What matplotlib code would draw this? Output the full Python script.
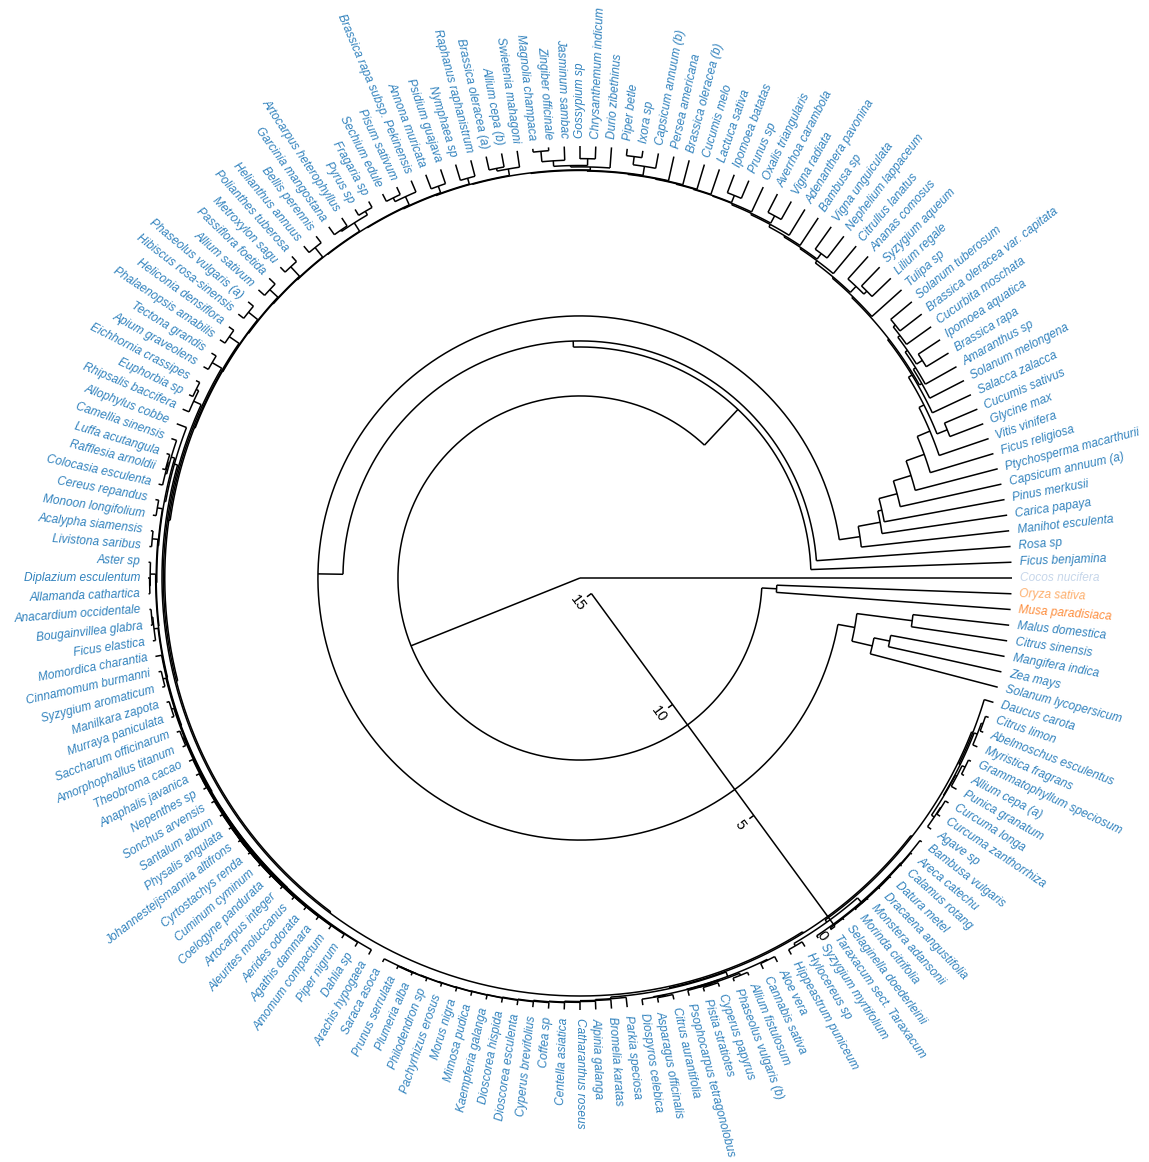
import numpy as np
import matplotlib
matplotlib.use("Agg")
import matplotlib.pyplot as plt

# leaf labels in display order, clockwise from the 3 o'clock position
leaves = [
    "Cocos nucifera", "Oryza sativa", "Musa paradisiaca", "Malus domestica",
    "Citrus sinensis", "Mangifera indica", "Zea mays", "Solanum lycopersicum",
    "Daucus carota", "Citrus limon", "Abelmoschus esculentus", "Myristica fragrans",
    "Grammatophyllum speciosum", "Allium cepa (a)", "Punica granatum", "Curcuma longa",
    "Curcuma zanthorrhiza", "Agave sp", "Bambusa vulgaris", "Areca catechu",
    "Calamus rotang", "Datura metel", "Dracaena angustifolia", "Monstera adansonii",
    "Morinda citrifolia", "Selaginella doederleinii", "Taraxacum sect. Taraxacum",
    "Syzygium myrtifolium", "Hylocereus sp", "Hippeastrum puniceum", "Aloe vera",
    "Cannabis sativa", "Allium fistulosum", "Phaseolus vulgaris (b)", "Cyperus papyrus",
    "Pistia stratiotes", "Psophocarpus tetragonolobus", "Citrus aurantifolia",
    "Asparagus officinalis", "Diospyros celebica", "Parkia speciosa", "Bromelia karatas",
    "Alpinia galanga", "Catharanthus roseus", "Centella asiatica", "Coffea sp",
    "Cyperus brevifolius", "Dioscorea esculenta", "Dioscorea hispida", "Kaempferia galanga",
    "Mimosa pudica", "Morus nigra", "Pachyrhizus erosus", "Philodendron sp",
    "Plumeria alba", "Prunus serrulata", "Saraca asoca", "Arachis hypogaea", "Dahlia sp",
    "Piper nigrum", "Amomum compactum", "Agathis dammara", "Aerides odorata",
    "Aleurites moluccanus", "Artocarpus integer", "Coelogyne pandurata", "Cuminum cyminum",
    "Cyrtostachys renda", "Johannesteijsmannia altifrons", "Physalis angulata",
    "Santalum album", "Sonchus arvensis", "Nepenthes sp", "Anaphalis javanica",
    "Theobroma cacao", "Amorphophallus titanum", "Saccharum officinarum",
    "Murraya paniculata", "Manilkara zapota", "Syzygium aromaticum", "Cinnamomum burmanni",
    "Momordica charantia", "Ficus elastica", "Bougainvillea glabra", "Anacardium occidentale",
    "Allamanda cathartica", "Diplazium esculentum", "Aster sp", "Livistona saribus",
    "Acalypha siamensis", "Monoon longifolium", "Cereus repandus", "Colocasia esculenta",
    "Rafflesia arnoldii", "Luffa acutangula", "Camellia sinensis", "Allophylus cobbe",
    "Rhipsalis baccifera", "Euphorbia sp", "Eichhornia crassipes", "Apium graveolens",
    "Tectona grandis", "Phalaenopsis amabilis", "Heliconia densiflora",
    "Hibiscus rosa-sinensis", "Phaseolus vulgaris (a)", "Allium sativum",
    "Passiflora foetida", "Metroxylon sagu", "Polianthes tuberosa", "Helianthus annuus",
    "Bellis perennis", "Garcinia mangostana", "Artocarpus heterophyllus", "Pyrus sp",
    "Fragaria sp", "Sechium edule", "Pisum sativum", "Brassica rapa subsp. Pekinensis",
    "Annona muricata", "Psidium guajava", "Nymphaea sp", "Raphanus raphanistrum",
    "Brassica oleracea (a)", "Allium cepa (b)", "Swietenia mahagoni", "Magnolia champaca",
    "Zingiber officinale", "Jasminum sambac", "Gossypium sp", "Chrysanthemum indicum",
    "Durio zibethinus", "Piper betle", "Ixora sp", "Capsicum annuum (b)",
    "Persea americana", "Brassica oleracea (b)", "Cucumis melo", "Lactuca sativa",
    "Ipomoea batatas", "Prunus sp", "Oxalis triangularis", "Averrhoa carambola",
    "Vigna radiata", "Adenanthera pavonina", "Bambusa sp", "Vigna unguiculata",
    "Nephelium lappaceum", "Citrullus lanatus", "Ananas comosus", "Syzygium aqueum",
    "Lilium regale", "Tulipa sp", "Solanum tuberosum", "Brassica oleracea var. capitata",
    "Cucurbita moschata", "Ipomoea aquatica", "Brassica rapa", "Amaranthus sp",
    "Solanum melongena", "Salacca zalacca", "Cucumis sativus", "Glycine max",
    "Vitis vinifera", "Ficus religiosa", "Ptychosperma macarthurii", "Capsicum annuum (a)",
    "Pinus merkusii", "Carica papaya", "Manihot esculenta", "Rosa sp", "Ficus benjamina",
]

# merge height between each pair of neighbouring leaves
gaps = [
    15.7, 8.54, 9.08, 3.52, 5.55, 4.21, 4.79, 6.17,                     # Cocos .. Daucus
    0.35, 0.12, 0.18, 0.30, 0.10, 0.22, 0.28, 0.14, 0.16, 0.40,         # Daucus .. Bambusa v.
    0.08, 0.06, 0.07, 0.05, 0.06, 0.05, 0.07, 0.06, 0.10, 0.30, 0.20,   # .. Hippeastrum
    0.45, 0.22, 0.25, 0.12, 0.20, 0.15, 0.20, 0.24, 0.18, 0.22,         # .. Parkia
    0.42, 0.36, 0.33, 0.30, 0.27, 0.25, 0.22, 0.20, 0.18, 0.17,         # .. Mimosa
    0.16, 0.15, 0.14, 0.13, 0.12, 0.11, 0.13, 0.50, 0.20, 0.18,         # .. Piper nigrum
    0.16, 0.15, 0.14, 0.13, 0.12, 0.11, 0.10, 0.10, 0.09, 0.10,         # .. Santalum
    0.11, 0.12, 0.14, 0.13, 0.15, 0.17, 0.12, 0.19, 0.10, 0.21,         # .. Manilkara
    0.10, 0.23, 0.25, 0.10, 0.06, 0.27, 0.05, 0.07, 0.29, 0.08,         # .. Livistona
    0.31, 0.12, 0.33, 0.15, 0.12, 0.20, 0.38,                           # .. Allophylus
    0.55, 0.25, 0.15, 0.60, 0.20, 0.65, 0.22, 0.68, 0.25, 0.70,         # .. Allium sativum
    0.30, 0.72, 0.25, 0.74, 0.30, 0.76, 0.35, 0.40, 0.25, 0.78,         # .. Sechium
    0.30, 0.45, 0.80, 0.55, 0.82, 0.60, 0.84, 0.50, 0.60, 0.86,         # .. Magnolia
    0.12, 0.50, 0.70, 0.45, 0.75, 0.88, 0.25, 0.55, 0.90, 0.92,         # .. Brassica ol. (b)
    0.94, 0.96, 0.98, 0.70,                                             # .. Prunus sp
    1.00, 1.05, 0.75, 1.10, 1.20, 1.25, 1.00, 1.30, 1.40, 1.10,         # .. Syzygium aqueum
    0.95, 1.45, 1.50, 1.00, 1.10, 1.20, 0.95, 1.30, 1.40, 1.55,         # .. Salacca
    1.70, 1.30, 1.90, 2.40, 3.10, 3.77, 4.45, 4.60, 5.41, 7.08, 7.30,   # .. Ficus benjamina
]

special_colors = {"Cocos nucifera": "#c6d6ea", "Oryza sativa": "#fdae6b",
                  "Musa paradisiaca": "#fd8d3c"}
label_color = "#3182bd"
axis_ticks = [0, 5, 10, 15]

top = 15.7          # root height -> radius 0, leaves sit at radius `top`
px = 27.5           # pixels per height unit
cx, cy = 580, 578   # centre of the tree in pixels
W, H = 1149, 1162

n = len(leaves)
step = 2 * np.pi / n

fig = plt.figure(figsize=(W / 100, H / 100), dpi=100)
ax = fig.add_axes([0, 0, 1, 1])
ax.set_xlim(-cx / px, (W - cx) / px)
ax.set_ylim(-(H - cy) / px, cy / px)
ax.axis("off")

kw = dict(color="black", lw=1.1, solid_capstyle="butt")


def draw(lo, hi):
    if lo == hi:
        return float(lo), 0.0
    j = lo + int(np.argmax(gaps[lo:hi]))
    h = gaps[j]
    p1, h1 = draw(lo, j)
    p2, h2 = draw(j + 1, hi)
    r = top - h
    t = np.linspace(-p1 * step, -p2 * step, max(3, int(abs(p2 - p1) * 6)))
    ax.plot(r * np.cos(t), r * np.sin(t), **kw)
    for p, hc in ((p1, h1), (p2, h2)):
        a = -p * step
        rc = top - hc
        ax.plot([r * np.cos(a), rc * np.cos(a)], [r * np.sin(a), rc * np.sin(a)], **kw)
    return (p1 + p2) / 2, h


draw(0, n - 1)

# leaf labels
r_lab = top + 0.3
for i, name in enumerate(leaves):
    a = -i * step
    deg = np.degrees(a) % 360
    x, y = r_lab * np.cos(a), r_lab * np.sin(a)
    if 90 < deg < 270:
        rot, ha = deg - 180, "right"
    else:
        rot, ha = deg, "left"
    ax.text(x, y, name, rotation=rot, rotation_mode="anchor", ha=ha, va="center",
            fontsize=8.6, style="italic", family="Liberation Sans",
            color=special_colors.get(name, label_color))

# height scale
ang = np.radians(-53.8)
u = np.array([np.cos(ang), np.sin(ang)])
perp = np.array([np.cos(ang - np.pi / 2), np.sin(ang - np.pi / 2)])
p0 = (top - axis_ticks[0]) * u
p1 = (top - axis_ticks[-1]) * u
ax.plot([p0[0], p1[0]], [p0[1], p1[1]], **kw)
for tk in axis_ticks:
    b = (top - tk) * u
    e = b + perp * 0.2
    ax.plot([b[0], e[0]], [b[1], e[1]], **kw)
    lp = b + perp * 0.6
    ax.text(lp[0], lp[1], str(tk), rotation=np.degrees(ang), rotation_mode="anchor",
            ha="center", va="center", fontsize=10.5, family="Liberation Sans")

fig.savefig("out.png", dpi=100)
